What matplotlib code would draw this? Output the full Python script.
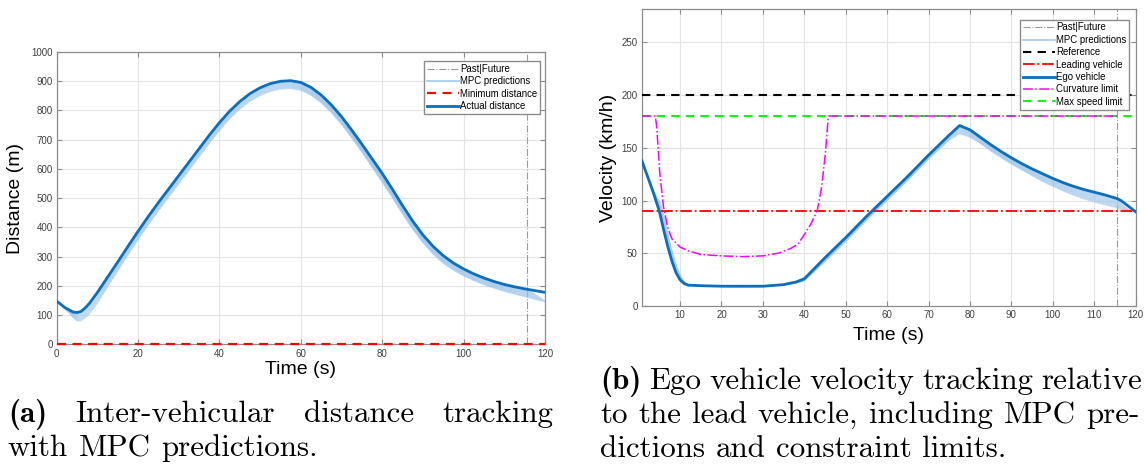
import numpy as np
import matplotlib
matplotlib.use("Agg")
import matplotlib.pyplot as plt
from matplotlib.lines import Line2D

plt.rcParams['font.family'] = ['Liberation Sans', 'DejaVu Sans']

# ---- (a) inter-vehicular distance ----
dist_t = [0, 2, 4, 5, 6, 7, 8, 10, 12.5, 15, 17.5, 20, 22.5, 25, 27.5, 30, 32.5, 35, 37.5, 40,
          42.5, 45, 47.5, 50, 52.5, 55, 57.5, 60, 62.5, 65, 67.5, 70, 72.5, 75, 77.5, 80,
          82.5, 85, 87.5, 90, 92.5, 95, 97.5, 100, 102.5, 105, 107.5, 110, 112.5, 115, 117.5, 120]
dist = [148, 126, 111, 109, 113, 125, 140, 178, 230, 282, 335, 387, 437, 485, 531, 577, 623, 669, 715, 758,
        797, 830, 857, 877, 891, 899, 901, 895, 878, 852, 818, 778, 732, 684, 634, 584,
        530, 474, 421, 374, 335, 303, 278, 258, 241, 227, 215, 205, 197, 190, 184, 178]
# far edge of the MPC prediction fan
dist_pred_edge = [148, 115, 88, 80, 80, 90, 103, 140, 195, 250, 304, 357, 407, 456, 502, 548, 594, 640, 686, 730,
                  770, 803, 830, 850, 864, 872, 874, 868, 851, 825, 791, 751, 705, 656, 605, 554,
                  500, 445, 393, 347, 308, 277, 253, 234, 218, 204, 192, 181, 172, 163, 154, 145]
min_dist = 0

# ---- (b) ego velocity ----
vel_t = [0.75, 2.5, 3.5, 4.5, 5, 6, 7, 8, 9, 10, 11, 12, 15, 20, 25, 30, 35, 38, 40, 45, 50,
         55, 60, 65, 70, 75, 77.5, 80, 82.5, 85, 87.5, 90, 92.5, 95, 97.5, 100, 102.5, 105,
         107.5, 110, 112.5, 115.5, 116.5, 120]
vel = [138, 119, 108, 96, 90, 73, 57, 43, 32, 25, 21.5, 20, 19.5, 19, 19, 19, 20.5, 23, 26, 46, 65,
       85, 104, 123, 143, 162, 171, 167, 160, 153, 146.5, 140.5, 135, 130, 125.5, 121, 117, 113.5,
       110.5, 108, 105.5, 102, 100, 89.5]
vel_pred_edge = [138, 119, 112, 104, 101, 88, 71, 54, 40, 30, 23, 20, 19.5, 19, 19, 19, 20, 22, 24, 42, 61,
                 81, 100, 119, 139, 157, 163, 160, 154, 147, 140.5, 134.5, 129, 123.5, 118, 113.5, 109, 105,
                 101.5, 98.5, 96, 93, 91, 89]
curv_t = [0.75, 4.0, 4.3, 4.7, 5.1, 6, 7, 8, 10, 12, 15, 20, 25, 30, 34, 36.7, 38.5, 40.2, 41.6,
          43.1, 44.2, 45.1, 45.8, 115.5]
curv = [180, 180, 172, 150, 126, 94, 75, 64, 56, 52.5, 49, 47.7, 47, 47.7, 50.5, 54.7, 59, 69, 78,
        90, 113, 145, 180, 180]
v_ref = 200
v_lead = 90
v_max = 180

t_split = 115.5

W, H = 1146, 469
fig = plt.figure(figsize=(W / 100, H / 100), dpi=100)
ax1 = fig.add_axes([0.0495, 0.2655, 0.4261, 0.6243])
ax2 = fig.add_axes([0.560, 0.3469, 0.4309, 0.6333])

pred_col = '#9cc6ea'
blue = '#0b6fbd'


def draw_preds(ax, t, act, edge, t0, t1, horizon, step, t_end):
    for ti in np.arange(t0, t1 + 1e-9, step):
        tt = np.linspace(ti, min(ti + horizon, t_end), 12)
        a = np.interp(tt, t, act)
        e = np.interp(tt, t, edge)
        frac = (tt - ti) / horizon
        ax.plot(tt, a + (e - a) * frac, color=pred_col, lw=0.8, alpha=0.6, zorder=2)
    # legend proxy
    return Line2D([], [], color='#a8cdee', lw=1.3, label='MPC predictions')


def style(ax, xticks, yticks, xlim, ylim):
    ax.set_xlim(*xlim)
    ax.set_ylim(*ylim)
    ax.set_xticks(xticks)
    ax.set_yticks(yticks)
    ax.grid(True, color='#e3e3e3', lw=0.8)
    ax.set_axisbelow(True)
    ax.tick_params(direction='in', length=3.5, width=0.8, color='#8c8c8c',
                   labelsize=7, labelcolor='#404040', top=True, right=True, pad=3)
    for s in ax.spines.values():
        s.set_color('#8c8c8c')
        s.set_linewidth(0.9)


leg_kw = dict(loc='upper right', fontsize=6.9, frameon=True, fancybox=False, edgecolor='#8c8c8c',
              framealpha=1, borderaxespad=0, borderpad=0.3, labelspacing=0.25,
              handlelength=3.4, handletextpad=0.1)

# (a)
pf1 = ax1.axvline(t_split, color='#9a9a9a', ls='-.', lw=0.8, label='Past|Future', zorder=1.5)
mp1 = draw_preds(ax1, dist_t, dist, dist_pred_edge, 0, t_split, 5, 0.5, 120)
md, = ax1.plot([0, 120], [min_dist, min_dist], color='#ff0000', lw=1.6, dashes=(4, 3),
               label='Minimum distance', clip_on=False, zorder=4)
ad, = ax1.plot(dist_t, dist, color=blue, lw=2, label='Actual distance', zorder=3)
style(ax1, range(0, 121, 20), range(0, 1001, 100), (0, 120), (0, 1000))
ax1.set_xlabel('Time (s)', fontsize=14)
ax1.set_ylabel('Distance (m)', fontsize=14)
ax1.xaxis.set_label_coords(0.5, -0.056)
ax1.yaxis.set_label_coords(-0.066, 0.5)
ax1.legend(handles=[pf1, mp1, md, ad], bbox_to_anchor=(0.9898, 0.968), **leg_kw)

# (b)
pf2 = ax2.axvline(t_split, color='#9a9a9a', ls='-.', lw=0.8, label='Past|Future', zorder=1.5)
mp2 = draw_preds(ax2, vel_t, vel, vel_pred_edge, 0.75, t_split, 4.5, 0.5, 120)
rf = ax2.axhline(v_ref, color='black', lw=1.5, dashes=(4, 3), label='Reference', zorder=3)
ld = ax2.axhline(v_lead, color='#ff0000', lw=1.3, ls='-.', label='Leading vehicle', zorder=3)
ev, = ax2.plot(vel_t, vel, color=blue, lw=2, label='Ego vehicle', zorder=4)
cl, = ax2.plot(curv_t, curv, color='#ff00ff', lw=1.1, ls='-.', label='Curvature limit', zorder=3.5)
ms = ax2.axhline(v_max, color='#00ff00', lw=1.5, dashes=(4, 3), label='Max speed limit', zorder=3)
style(ax2, range(10, 121, 10), range(0, 251, 50), (0.75, 120), (0, 281))
ax2.set_xlabel('Time (s)', fontsize=14)
ax2.set_ylabel('Velocity (km/h)', fontsize=14)
ax2.xaxis.set_label_coords(0.5, -0.07)
ax2.yaxis.set_label_coords(-0.05, 0.5)
ax2.legend(handles=[pf2, mp2, rf, ld, ev, cl, ms], bbox_to_anchor=(0.9877, 0.9653), **leg_kw)

# ---- captions (LaTeX-like, justified) ----
renderer = fig.canvas.get_renderer()
probe = fig.text(0, 0, 'with MPC predictions.', family='cmr10', fontsize=20)
cap_size = 20 * 310 / probe.get_window_extent(renderer).width
probe.remove()


def caption_line(parts, x0, x1, ybase, justify=True):
    texts = []
    for word, bold in parts:
        texts.append(fig.text(0, 1 - ybase / H, word, family='cmb10' if bold else 'cmr10',
                              fontsize=cap_size, va='baseline', ha='left'))
    widths = [t.get_window_extent(renderer).width for t in texts]
    if justify and len(texts) > 1:
        gap = (x1 - x0 - sum(widths)) / (len(texts) - 1)
    else:
        gap = cap_size * 100 / 72 * 0.333
    x = x0
    for t, w in zip(texts, widths):
        t.set_x(x / W)
        x += w + gap


def words(s):
    return [(w, False) for w in s.split()]


caption_line([('(a)', True)] + words('Inter-vehicular distance tracking'), 8, 553, 422)
caption_line(words('with MPC predictions.'), 8, 553, 456, justify=False)
caption_line([('(b)', True)] + words('Ego vehicle velocity tracking relative'), 600, 1142, 389)
caption_line(words('to the lead vehicle, including MPC pre-'), 600, 1140, 423)
caption_line(words('dictions and constraint limits.'), 600, 1140, 457, justify=False)

fig.savefig('out.png', dpi=100)
